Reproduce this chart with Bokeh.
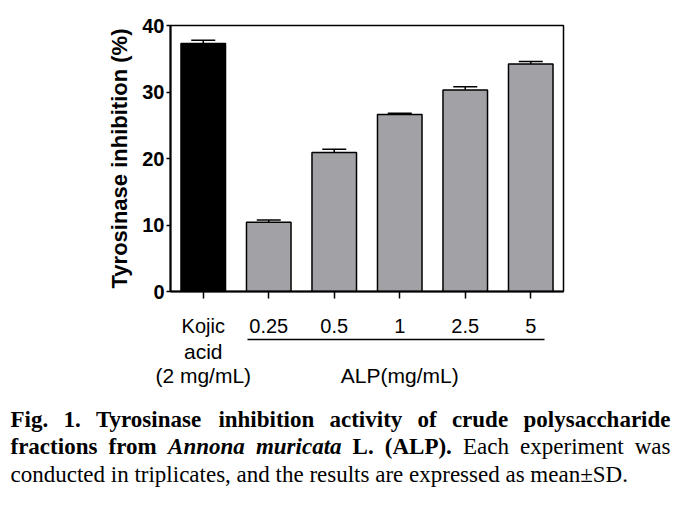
from bokeh.plotting import figure
from bokeh.models import (ColumnDataSource, Range1d, Whisker, TeeHead, Label,
                          FixedTicker, LinearAxis)
from bokeh.embed import file_html
from bokeh.resources import INLINE

# ---- data ----
categories = ["Kojic acid (2 mg/mL)", "0.25", "0.5", "1", "2.5", "5"]
first_line_labels = ["Kojic", "0.25", "0.5", "1", "2.5", "5"]
kojic_extra_label = "acid\n(2 mg/mL)"
inhibition = [37.3, 10.4, 20.9, 26.6, 30.3, 34.2]
sd = [0.5, 0.35, 0.5, 0.2, 0.5, 0.4]
bar_colors = ["#000000", "#a2a2a6", "#a2a2a6", "#a2a2a6", "#a2a2a6", "#a2a2a6"]
y_ticks = [0, 10, 20, 30, 40]
group_label = "ALP(mg/mL)"
y_title = "Tyrosinase inhibition (%)"

n = len(categories)
xpos = [i + 0.5 for i in range(n)]
src = ColumnDataSource(dict(
    x=xpos,
    cat=categories,
    val=inhibition,
    upper=[v + e for v, e in zip(inhibition, sd)],
    color=bar_colors,
))

p = figure(width=680, height=391, x_range=Range1d(0, n),
           y_range=Range1d(0, 40), output_backend="svg", toolbar_location=None,
           min_border_left=170, min_border_right=117, min_border_top=25,
           min_border_bottom=100)
p.background_fill_color = "white"
p.border_fill_color = "white"
p.grid.visible = False
p.outline_line_color = "black"
p.outline_line_width = 1.5

p.vbar(x="x", top="val", width=0.68, source=src, fill_color="color",
       line_color="black", line_width=1.5)

wh = Whisker(base="x", upper="upper", lower="val", source=src,
             lower_head=None,
             upper_head=TeeHead(size=24, line_width=1.5, line_color="black"),
             line_width=1.5, line_color="black", level="overlay")
p.add_layout(wh)

# y axis
ya = p.yaxis[0]
ya.ticker = FixedTicker(ticks=y_ticks)
ya.minor_tick_line_color = None
ya.major_tick_in = 0
ya.major_tick_out = 4
ya.major_tick_line_width = 1.5
ya.axis_line_width = 2
ya.major_label_text_font = "Liberation Sans"
ya.major_label_text_font_style = "bold"
ya.major_label_text_font_size = "20px"
ya.major_label_text_color = "black"
ya.major_label_standoff = 2
ya.axis_label = y_title
ya.axis_label_text_font = "Liberation Sans"
ya.axis_label_text_font_style = "bold"
ya.axis_label_text_font_size = "22px"
ya.axis_label_text_color = "black"
ya.axis_label_standoff = 7

# x axis (first label line)
xa = p.xaxis[0]
xa.ticker = FixedTicker(ticks=xpos)
xa.minor_tick_line_color = None
xa.major_tick_in = 0
xa.major_tick_out = 7
xa.major_tick_line_width = 1.5
xa.axis_line_width = 2
xa.major_label_text_font = "Liberation Sans"
xa.major_label_text_font_size = "20px"
xa.major_label_text_color = "black"
xa.major_label_standoff = 16
xa.major_label_orientation = "horizontal"
xa.major_label_overrides = dict(zip(xpos, first_line_labels))

# group line under the ALP concentrations
group_start = 1.18
group_end = 5.71
line_axis = LinearAxis(ticker=FixedTicker(ticks=[]),
                       bounds=(group_start, group_end), axis_line_width=1.5,
                       axis_line_color="black", major_tick_line_color=None,
                       minor_tick_line_color=None, major_label_text_font_size="0px",
                       major_tick_in=0, major_tick_out=0, minor_tick_in=0,
                       minor_tick_out=0, major_label_standoff=0)
p.add_layout(line_axis, "below")

# second label lines: rest of kojic label and ALP group label
group_center = (xpos[1] + xpos[-1]) / 2.0
lab_axis = LinearAxis(ticker=FixedTicker(ticks=[xpos[0], group_center]),
                      axis_line_color=None, major_tick_line_color=None,
                      minor_tick_line_color=None,
                      major_tick_in=0, major_tick_out=0, minor_tick_in=0,
                      minor_tick_out=0,
                      major_label_text_font="Liberation Sans",
                      major_label_text_font_size="21px",
                      major_label_text_color="black",
                      major_label_text_line_height=1.05,
                      major_label_standoff=0)
lab_axis.major_label_overrides = {xpos[0]: kojic_extra_label,
                                  group_center: " \n" + group_label}
p.add_layout(lab_axis, "below")

# ---- caption ----
CH = 118
c = figure(width=680, height=CH, x_range=Range1d(0, 680), y_range=Range1d(0, CH),
           x_axis_type=None, y_axis_type=None, output_backend="svg",
           toolbar_location=None, min_border=0)
c.outline_line_color = None
c.grid.visible = False
c.background_fill_color = "white"
c.border_fill_color = "white"

cap_size = "23px"
def cap(txt, x, y, style="normal", align="left"):
    c.add_layout(Label(x=x, y=y, text=txt, text_align=align, text_baseline="alphabetic",
                       text_font="Liberation Serif", text_font_size=cap_size,
                       text_font_style=style, text_color="black"))

y1, y2, y3 = CH - 28, CH - 55, CH - 83
line1 = [("Fig.", 10), ("1.", 62.9), ("Tyrosinase", 95.4), ("inhibition", 217.9),
         ("activity", 329), ("of", 417), ("crude", 451.4)]
for t, x in line1:
    cap(t, x, y1, "bold")
cap("polysaccharide", 670, y1, "bold", "right")

line2 = [("fractions", 10, "bold"), ("from", 108, "bold"), ("Annona", 167.6, "bold italic"),
         ("muricata", 255.4, "bold italic"), ("L.", 352.1, "bold"), ("(ALP).", 384.3, "bold"),
         ("Each", 462.5, "normal"), ("experiment", 519.6, "normal")]
for t, x, s in line2:
    cap(t, x, y2, s)
cap("was", 670, y2, "normal", "right")

cap("conducted in triplicates, and the results are expressed as mean\u00b1SD.", 10, y3)

open("out.html", "w").write(file_html([p, c], INLINE))
